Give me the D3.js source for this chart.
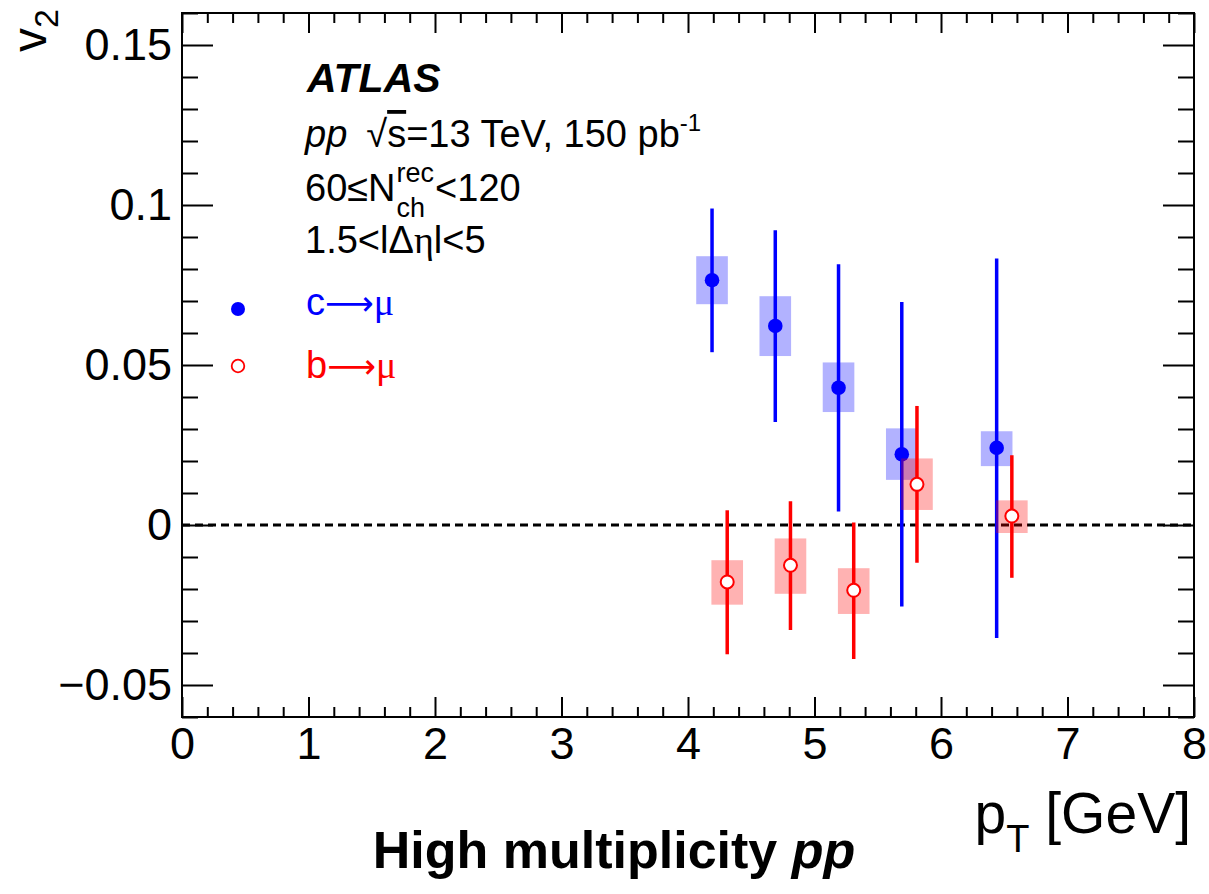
<!DOCTYPE html>
<html>
<head>
<meta charset="utf-8">
<script src="https://cdn.jsdelivr.net/npm/d3@7"></script>
<style>
  body { margin: 0; background: #fff; }
  text { font-family: "Liberation Sans", Arial, Helvetica, sans-serif; }
</style>
</head>
<body>
<script>
// Chart size
var width = 1209, height = 894;
var margin = {left: 182, right: 15, top: 13, bottom: 177};
var plotW = width - margin.left - margin.right;
var plotH = height - margin.top - margin.bottom;

// Axis ticks
var xTicks = [0, 1, 2, 3, 4, 5, 6, 7, 8];
var yTicks = [-0.05, 0, 0.05, 0.1, 0.15];

// c -> mu (blue, filled)
var cPt    = [4.19, 4.69, 5.19, 5.69, 6.44];
var cV2    = [0.0765, 0.0622, 0.0429, 0.0221, 0.0241];
var cStatHi = [0.0989, 0.0921, 0.0815, 0.0697, 0.0833];
var cStatLo = [0.0540, 0.0322, 0.0042, -0.0255, -0.0353];
var cSysHi = [0.0840, 0.0715, 0.0508, 0.0302, 0.0293];
var cSysLo = [0.0690, 0.0528, 0.0353, 0.0141, 0.0184];

// b -> mu (red, open)
var bPt    = [4.31, 4.81, 5.31, 5.81, 6.56];
var bV2    = [-0.0178, -0.0126, -0.0204, 0.0127, 0.0028];
var bStatHi = [0.0046, 0.0074, 0.0008, 0.0372, 0.0218];
var bStatLo = [-0.0404, -0.0328, -0.0419, -0.0118, -0.0165];
var bSysHi = [-0.0110, -0.0042, -0.0135, 0.0208, 0.0077];
var bSysLo = [-0.0249, -0.0215, -0.0278, 0.0047, -0.0025];

var boxHalf = 0.125; // half width of syst. boxes in GeV

function rows(pt, v2, hi, lo, sHi, sLo) {
    return pt.map(function(p, i) {
        return {pt: p, v2: v2[i], hi: hi[i], lo: lo[i], sHi: sHi[i], sLo: sLo[i]};
    });
}
var cData = rows(cPt, cV2, cStatHi, cStatLo, cSysHi, cSysLo);
var bData = rows(bPt, bV2, bStatHi, bStatLo, bSysHi, bSysLo);

var svg = d3.select("body").append("svg").attr("width", width).attr("height", height);
var g = svg.append("g").attr("transform", "translate(" + margin.left + "," + margin.top + ")");

var x = d3.scaleLinear().domain([0, 8]).range([0, plotW]);
var y = d3.scaleLinear().domain([-0.06, 0.16]).range([plotH, 0]);

var fmtY = function(d) { return (d < 0 ? "\u2212" : "") + Math.abs(d); };
var xMinor = d3.range(0, 8.001, 0.2).filter(function(d) { return Math.abs(d - Math.round(d)) > 1e-6; });
var yMinor = d3.range(-0.06, 0.1601, 0.01).filter(function(d) { return Math.abs(d / 0.05 - Math.round(d / 0.05)) > 1e-6; });

function styleAxis(sel) {
    sel.select(".domain").remove();
    sel.selectAll("line").attr("stroke", "#000").attr("stroke-width", 2);
    sel.selectAll("text").attr("font-size", 45).attr("fill", "#000")
        .style("font-family", "'Liberation Sans', Arial, Helvetica, sans-serif");
}

// bottom
g.append("g").attr("transform", "translate(0," + plotH + ")")
    .call(d3.axisBottom(x).tickValues(xTicks).tickSize(-20).tickPadding(10).tickFormat(d3.format("d")))
    .call(styleAxis);
g.append("g").attr("transform", "translate(0," + plotH + ")")
    .call(d3.axisBottom(x).tickValues(xMinor).tickSize(-10).tickFormat(""))
    .call(styleAxis);
// top
g.append("g").call(d3.axisTop(x).tickValues(xTicks).tickSize(-20).tickFormat("")).call(styleAxis);
g.append("g").call(d3.axisTop(x).tickValues(xMinor).tickSize(-10).tickFormat("")).call(styleAxis);
// left
g.append("g")
    .call(d3.axisLeft(y).tickValues(yTicks).tickSize(-31).tickPadding(10).tickFormat(fmtY))
    .call(styleAxis);
g.append("g").call(d3.axisLeft(y).tickValues(yMinor).tickSize(-16).tickFormat("")).call(styleAxis);
// right
g.append("g").attr("transform", "translate(" + plotW + ",0)")
    .call(d3.axisRight(y).tickValues(yTicks).tickSize(-31).tickFormat("")).call(styleAxis);
g.append("g").attr("transform", "translate(" + plotW + ",0)")
    .call(d3.axisRight(y).tickValues(yMinor).tickSize(-16).tickFormat("")).call(styleAxis);

// frame
g.append("rect").attr("width", plotW).attr("height", plotH)
    .attr("fill", "none").attr("stroke", "#000").attr("stroke-width", 2);

// zero line
g.append("line").attr("x1", 0).attr("x2", plotW).attr("y1", y(0)).attr("y2", y(0))
    .attr("stroke", "#000").attr("stroke-width", 3).attr("stroke-dasharray", "8,5");

// series drawing
function drawSeries(data, color) {
    var s = g.append("g");
    s.selectAll("rect.sys").data(data).enter().append("rect")
        .attr("x", function(d) { return x(d.pt - boxHalf); })
        .attr("width", function(d) { return x(d.pt + boxHalf) - x(d.pt - boxHalf); })
        .attr("y", function(d) { return y(d.sHi); })
        .attr("height", function(d) { return y(d.sLo) - y(d.sHi); })
        .attr("fill", color).attr("fill-opacity", 0.3);
    return s;
}
function drawMarks(s, data, color, filled) {
    s.selectAll("line.err").data(data).enter().append("line")
        .attr("x1", function(d) { return x(d.pt); })
        .attr("x2", function(d) { return x(d.pt); })
        .attr("y1", function(d) { return y(d.hi); })
        .attr("y2", function(d) { return y(d.lo); })
        .attr("stroke", color).attr("stroke-width", 3.5);
    s.selectAll("circle").data(data).enter().append("circle")
        .attr("cx", function(d) { return x(d.pt); })
        .attr("cy", function(d) { return y(d.v2); })
        .attr("r", filled ? 7.3 : 6.5)
        .attr("fill", filled ? color : "#fff")
        .attr("stroke", color).attr("stroke-width", filled ? 0 : 2);
}
var sc = drawSeries(cData, "#0000ff");
var sb = drawSeries(bData, "#ff0000");
drawMarks(sc, cData, "#0000ff", true);
drawMarks(sb, bData, "#ff0000", false);

// Labels
var fs = 38;
svg.append("text").attr("x", 307).attr("y", 92).attr("font-size", 41)
    .attr("font-weight", "bold").attr("font-style", "italic").text("ATLAS");

var t1 = svg.append("text").attr("x", 305).attr("y", 147).attr("font-size", fs);
t1.append("tspan").attr("font-style", "italic").text("pp");
t1.append("tspan").text("\u2002\u221A");
t1.append("tspan").style("text-decoration", "overline").text("s");
t1.append("tspan").text("=13 TeV, 150 pb");
t1.append("tspan").attr("font-size", 24).attr("dy", -16).text("-1");

// 60<=N^rec_ch<120
var t2a = svg.append("text").attr("x", 305).attr("y", 201).attr("font-size", fs).text("60\u2264N");
var w2 = t2a.node().getComputedTextLength();
var sup = svg.append("text").attr("x", 305 + w2 + 1).attr("y", 182).attr("font-size", 27).text("rec");
var sub = svg.append("text").attr("x", 305 + w2 + 1).attr("y", 217).attr("font-size", 27).text("ch");
var w3 = Math.max(sup.node().getComputedTextLength(), sub.node().getComputedTextLength());
svg.append("text").attr("x", 305 + w2 + w3 + 2).attr("y", 201).attr("font-size", fs).text("<120");

var t3 = svg.append("text").attr("x", 305).attr("y", 253).attr("font-size", fs);
t3.append("tspan").text("1.5<");
t3.append("tspan").attr("font-weight", "300").text("l");
t3.append("tspan").text("\u0394");
t3.append("tspan").style("font-family", "'Liberation Serif', 'DejaVu Serif', serif").text("\u03B7");
t3.append("tspan").text("l<5");

// legend
var legendItems = [
    {label: "c", color: "#0000ff", filled: true, cy: 309, ty: 315},
    {label: "b", color: "#ff0000", filled: false, cy: 366, ty: 378}
];
legendItems.forEach(function(it) {
    svg.append("circle").attr("cx", 238).attr("cy", it.cy)
        .attr("r", it.filled ? 7 : 6.3)
        .attr("fill", it.filled ? it.color : "#fff")
        .attr("stroke", it.color).attr("stroke-width", it.filled ? 0 : 1.8);
    var t = svg.append("text").attr("x", 306).attr("y", it.ty).attr("font-size", 38).attr("fill", it.color);
    t.append("tspan").text(it.label);
    t.append("tspan").style("font-family", "'DejaVu Sans', sans-serif").attr("font-size", 34).text("\u27F6");
    t.append("tspan").style("font-family", "'Liberation Serif', 'DejaVu Serif', serif").text("\u03BC");
});

// axis titles
var xt = svg.append("text").attr("x", margin.left + plotW - 3).attr("y", 833)
    .attr("text-anchor", "end").attr("font-size", 57);
xt.append("tspan").text("p");
xt.append("tspan").attr("font-size", 38).attr("dy", 19).text("T");
xt.append("tspan").attr("dy", -19).text(" [GeV]");

var yt = svg.append("text").attr("transform", "translate(46,9) rotate(-90)")
    .attr("text-anchor", "end").attr("font-size", 48);
yt.append("tspan").text("v");
yt.append("tspan").attr("font-size", 34).attr("dy", 12).text("2");

// bottom caption
var cap = svg.append("text").attr("x", 614).attr("y", 868).attr("text-anchor", "middle")
    .attr("font-size", 52).attr("font-weight", "bold");
cap.append("tspan").text("High multiplicity ");
cap.append("tspan").attr("font-style", "italic").text("pp");
</script>
</body>
</html>
